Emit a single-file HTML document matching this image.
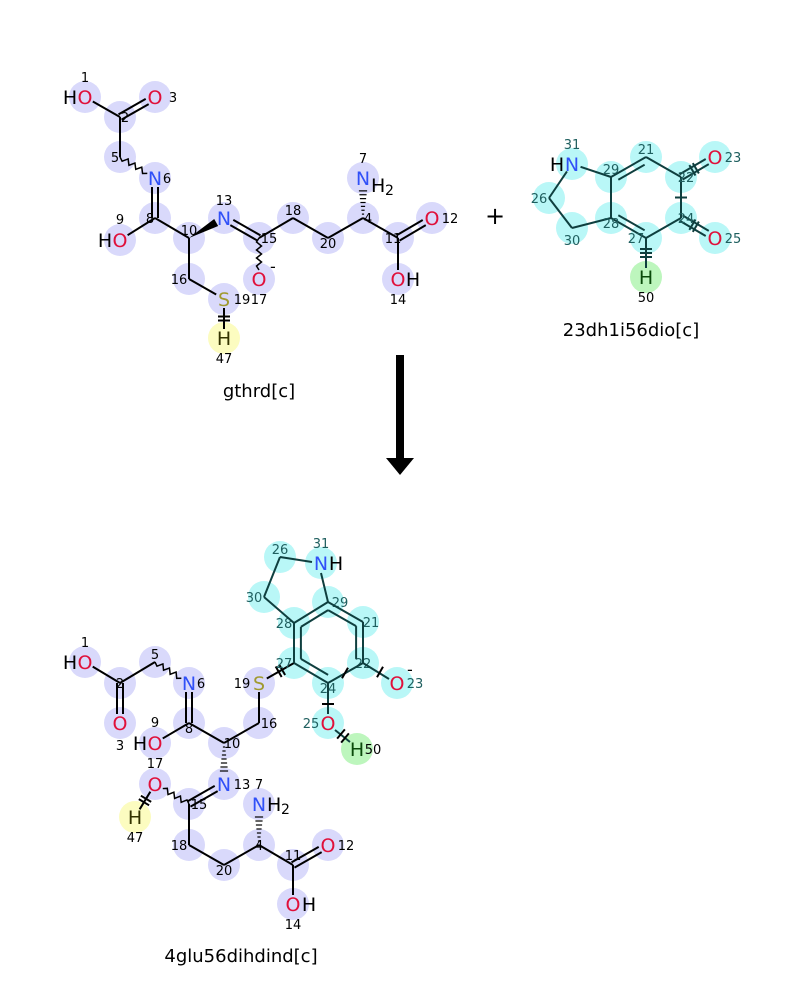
<!DOCTYPE html>
<html><head><meta charset="utf-8">
<style>
html,body{margin:0;padding:0;background:#fff;width:800px;height:1000px;overflow:hidden}
svg{display:block}
text{font-family:"DejaVu Sans","Liberation Sans",sans-serif}
</style></head>
<body>
<svg id="s" width="800" height="1000" viewBox="0 0 800 1000" xmlns="http://www.w3.org/2000/svg">
<line x1="400" y1="355" x2="400" y2="460" stroke="#000" stroke-width="8"/>
<polygon points="386,458 414,458 400,475" fill="#000"/>
<text x="495" y="224" font-size="24" text-anchor="middle">+</text>
<text x="259" y="397" font-size="18" text-anchor="middle">gthrd[c]</text>
<text x="631" y="336" font-size="18" text-anchor="middle">23dh1i56dio[c]</text>
<text x="241" y="962" font-size="18" text-anchor="middle">4glu56dihdind[c]</text>
</svg>
<script>
const S=document.getElementById('s');const NS='http://www.w3.org/2000/svg';
function el(t,a,txt){const e=document.createElementNS(NS,t);for(const k in a)e.setAttribute(k,a[k]);if(txt!==undefined)e.textContent=txt;S.appendChild(e);return e;}
const L='#d9d9fb',C='#b9f7f7',Y='#fcfcc0',G='#bdf6bd';
const col={O:'#e0103a',N:'#3050f8',S:'#a09a30',H:'#000',C:'#000'};
function draw(atoms,bonds,lineCol){
  for(const k in atoms){const a=atoms[k];el('circle',{cx:a[0],cy:a[1],r:16,fill:a[3]});}
  for(const b of bonds){const A=atoms[b[0]],B=atoms[b[1]];let x1=A[0],y1=A[1],x2=B[0],y2=B[1];
    const dx=x2-x1,dy=y2-y1,l=Math.hypot(dx,dy),ux=dx/l,uy=dy/l;
    const s1=A[2]!='C'?9:0,s2=B[2]!='C'?9:0;x1+=ux*s1;y1+=uy*s1;x2-=ux*s2;y2-=uy*s2;
    const t=b[2]||1, c=b[3]||lineCol;
    if(t==2){const px=-uy*3,py=ux*3;
      el('line',{x1:x1+px,y1:y1+py,x2:x2+px,y2:y2+py,stroke:c,'stroke-width':2});
      el('line',{x1:x1-px,y1:y1-py,x2:x2-px,y2:y2-py,stroke:c,'stroke-width':2});}
    else if(t=='in'){const px=-uy*6,py=ux*6;
      el('line',{x1:x1,y1:y1,x2:x2,y2:y2,stroke:c,'stroke-width':2});
      const cx=b[4],cy=b[5];let qx=px,qy=py;if(((x1+px-cx)**2+(y1+py-cy)**2)>((x1-px-cx)**2+(y1-py-cy)**2)){qx=-px;qy=-py;}
      el('line',{x1:x1+qx+ux*5,y1:y1+qy+uy*5,x2:x2+qx-ux*5,y2:y2+qy-uy*5,stroke:c,'stroke-width':2});}
    else if(t=='w'){el('polygon',{points:`${x1},${y1} ${x2-uy*4},${y2+ux*4} ${x2+uy*4},${y2-ux*4}`,fill:c});}
    else if(t=='h'){for(let i=1;i<=7;i++){const f=i/8,w=0.6+f*4;const x=x1+dx*f*(l-s1-s2)/l,y=y1+dy*f*(l-s1-s2)/l;
      el('line',{x1:x-uy*w,y1:y+ux*w,x2:x+uy*w,y2:y-ux*w,stroke:c,'stroke-width':1.2});}}
    else if(t=='z'){let p=[];const n=8;const L2=l-s1-s2;for(let i=0;i<=n;i++){const f=i/n,o=(i%2?2.5:-2.5)*(i==0||i==n?0:1);p.push((x1+ux*L2*f-uy*o)+','+(y1+uy*L2*f+ux*o));}
      el('polyline',{points:p.join(' '),fill:'none',stroke:c,'stroke-width':1.5});}
    else el('line',{x1,y1,x2,y2,stroke:c,'stroke-width':2});
    if(b[6]){const n=b[6];const mx=(x1+x2)/2,my=(y1+y2)/2;for(let i=0;i<n;i++){const o=(i-(n-1)/2)*4;
      el('line',{x1:mx+ux*o-uy*6,y1:my+uy*o+ux*6,x2:mx+ux*o+uy*6,y2:my+uy*o-ux*6,stroke:c,'stroke-width':2});}}
  }
  for(const k in atoms){const a=atoms[k];
    if(a[2]!='C'){el('text',{x:a[0],y:a[1]+7,'font-size':19,'text-anchor':'middle',fill:a[2]=='H'?(a[3]==G?'#0a4a0a':'#333300'):col[a[2]]},a[2]);}
    if(a[6]){const e=a[6];el('text',{x:a[0]+e[0],y:a[1]+7,'font-size':19,'text-anchor':'middle',fill:'#000'},e[1]);}
    el('text',{x:a[0]+a[4],y:a[1]+a[5],'font-size':13,'text-anchor':'middle',fill:a[3]==C?'#1f5f5f':'#000'},k);
  }
}
draw({
1:[85,97,'O',L,0,-15,[-15,'H']],3:[155,97,'O',L,18,5],2:[120,117,'C',L,5,5],5:[120,157,'C',L,-5,5],
6:[155,178,'N',L,12,5],8:[155,218,'C',L,-5,5],9:[120,240,'O',L,0,-16,[-15,'H']],10:[189,238,'C',L,0,-3],
13:[224,218,'N',L,0,-13],15:[259,238,'C',L,10,5],17:[259,279,'O',L,0,25],18:[293,218,'C',L,0,-3],
20:[328,238,'C',L,0,10],4:[363,218,'C',L,5,5],7:[363,178,'N',L,0,-15],11:[398,238,'C',L,-5,5],
12:[432,218,'O',L,18,5],14:[398,279,'O',L,0,25],16:[189,279,'C',L,-10,5],19:[224,299,'S',L,18,5],47:[224,338,'H',Y,0,25]
},[[1,2],[2,3,2],[2,5],[5,6,'z'],[6,8,2],[8,9],[8,10],[10,13,'w'],[13,15,2],[15,17,'z'],[15,18],[18,20],[20,4],[4,7,'h'],[4,11],[11,12,2],[11,14],[10,16],[16,19],[19,47,1,0,0,0,2]],'#000');
el('text',{x:270,y:272,'font-size':16,fill:'#000'},'-');
el('text',{x:371,y:192,'font-size':19,fill:'#000'},'H');el('text',{x:385,y:195,'font-size':14,fill:'#000'},'2');
el('text',{x:413,y:286,'font-size':19,fill:'#000','text-anchor':'middle'},'H');
const tc='#0f3f3f';
draw({
31:[572,164,'N',C,0,-15,[-15,'H']],29:[611,177,'C',C,0,-3],21:[646,157,'C',C,0,-3],22:[681,177,'C',C,5,5],
23:[715,157,'O',C,18,5],24:[681,218,'C',C,5,5],25:[715,238,'O',C,18,5],27:[646,238,'C',C,-10,5],
28:[611,218,'C',C,0,10],26:[549,198,'C',C,-10,5],30:[572,228,'C',C,0,17],50:[646,277,'H',G,0,25]
},[[31,29],[29,21,'in',tc,628,198],[21,22],[22,23,2,tc,0,0,2],[22,24,1,tc,0,0,1],[24,25,2,tc,0,0,2],[24,27],[27,28,'in',tc,628,198],[28,29],[31,26],[26,30],[30,28],[27,50,1,tc,0,0,3]],tc);
draw({
1:[85,662,'O',L,0,-15,[-15,'H']],2:[120,683,'C',L,0,5],3:[120,723,'O',L,0,27],5:[155,662,'C',L,0,-3],
6:[189,683,'N',L,12,5],8:[189,723,'C',L,0,10],9:[155,743,'O',L,0,-16,[-15,'H']],10:[224,743,'C',L,8,5],
16:[259,723,'C',L,10,5],19:[259,683,'S',L,-17,5],13:[224,784,'N',L,18,5],15:[189,804,'C',L,10,5],
17:[155,784,'O',L,0,-16],47:[135,817,'H',Y,0,25],18:[189,845,'C',L,-10,5],20:[224,865,'C',L,0,10],
4:[259,845,'C',L,0,5],7:[259,804,'N',L,0,-15],11:[293,865,'C',L,0,-5],12:[328,845,'O',L,18,5],14:[293,904,'O',L,0,25],
27:[294,663,'C',C,-10,5],28:[294,623,'C',C,-10,5],29:[328,602,'C',C,12,5],21:[363,622,'C',C,8,5],
22:[363,663,'C',C,0,5],24:[328,683,'C',C,0,10],23:[397,683,'O',C,18,5],25:[328,723,'O',C,-17,5],
50:[357,749,'H',G,16,5],30:[264,597,'C',C,-10,5],26:[280,557,'C',C,0,-3],31:[321,563,'N',C,0,-15,[15,'H']]
},[[1,2],[2,3,2],[2,5],[5,6,'z'],[6,8,2],[8,9],[8,10],[10,16],[16,19],[10,13,'h'],[13,15,2],[15,17,'z'],[17,47,1,0,0,0,2],[15,18],[18,20],[20,4],[4,7,'h'],[4,11],[11,12,2],[11,14],
[19,27,1,'#000',0,0,2]],'#000');
(function(){const A={27:[294,663],28:[294,623],29:[328,602],21:[363,622],22:[363,663],24:[328,683],30:[264,597],26:[280,557],31:[321,563]};
 const ln=(a,b)=>{let[x1,y1]=A[a],[x2,y2]=A[b];el('line',{x1,y1,x2,y2,stroke:tc,'stroke-width':2});};
 [[27,28],[28,29],[29,21],[21,22],[22,24],[24,27],[28,30],[30,26]].forEach(p=>ln(p[0],p[1]));
 const cx=328.5,cy=642.5;
 const inner=(a,b)=>{let[x1,y1]=A[a],[x2,y2]=A[b];const mx=(x1+x2)/2,my=(y1+y2)/2;
   const f=0.8;const ix1=cx+(x1-cx)*f,iy1=cy+(y1-cy)*f,ix2=cx+(x2-cx)*f,iy2=cy+(y2-cy)*f;
   el('line',{x1:ix1,y1:iy1,x2:ix2,y2:iy2,stroke:tc,'stroke-width':2});};
 [[27,28],[28,29],[29,21],[21,22],[24,27]].forEach(p=>inner(p[0],p[1]));
 el('line',{x1:280,y1:557,x2:312,y2:562,stroke:tc,'stroke-width':2});
 el('line',{x1:321,y1:573,x2:328,y2:602,stroke:tc,'stroke-width':2});
 el('line',{x1:363,y1:663,x2:389,y2:679,stroke:tc,'stroke-width':2});
 el('line',{x1:328,y1:683,x2:328,y2:714,stroke:tc,'stroke-width':2});
 el('line',{x1:335,y1:730,x2:350,y2:742,stroke:tc,'stroke-width':2});
 const tk=(x,y,ang)=>{const r=ang*Math.PI/180;el('line',{x1:x-Math.cos(r)*6,y1:y-Math.sin(r)*6,x2:x+Math.cos(r)*6,y2:y+Math.sin(r)*6,stroke:'#000','stroke-width':2});};
 tk(380,672,120);tk(328,704,0);tk(345,673,120);tk(341,734,130);tk(345,738,130);
 el('text',{x:407,y:675,'font-size':16,fill:'#000'},'-');
 el('text',{x:267,y:811,'font-size':19,fill:'#000'},'H');el('text',{x:281,y:814,'font-size':14,fill:'#000'},'2');
 el('text',{x:309,y:911,'font-size':19,fill:'#000','text-anchor':'middle'},'H');
})();
</script>
</body></html>
